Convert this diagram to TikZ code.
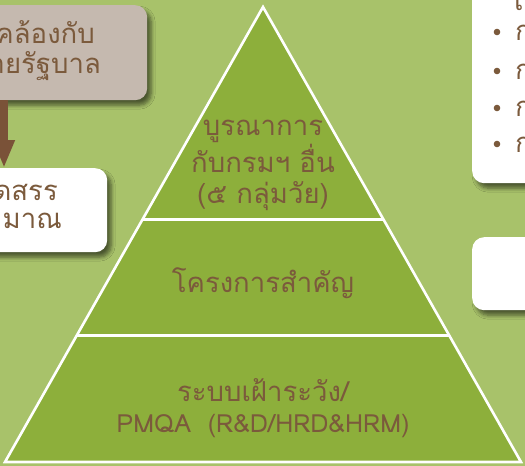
\documentclass[tikz,border=0pt]{standalone}
\usepackage{fontspec}
\newfontfamily\thaifont[Script=Thai]{Loma}
\usetikzlibrary{shadows.blur,arrows.meta,calc}
\definecolor{bgc}{HTML}{A8C26A}
\definecolor{pyrc}{HTML}{8DAF3B}
\definecolor{tanc}{HTML}{C5B9AF}
\definecolor{txtc}{HTML}{7B5A3C}
\definecolor{arrc}{HTML}{7A5238}
\newcommand{\latsize}{\fontsize{25}{31}\selectfont}
\begin{document}
\begin{tikzpicture}[x=1pt,y=-1pt,
  box/.style={draw=none, rounded corners=12pt, anchor=north west, inner sep=0pt,
    blur shadow={shadow xshift=4pt,shadow yshift=-5pt,shadow blur steps=6,shadow opacity=55,shadow blur radius=4pt}},
  txt/.style={text=txtc, inner sep=0pt, font=\thaifont\fontsize{27.5}{31}\selectfont}]
\useasboundingbox (0,0) rectangle (525,466);
\clip (0,0) rectangle (525,466);
\fill[bgc] (0,0) rectangle (525,466);
% left boxes
\node[box, fill=tanc, minimum width=207pt, minimum height=95pt] (polbox) at (-60,5) {};
\node[box, fill=white, minimum width=167pt, minimum height=84pt] (budbox) at (-60,168) {};
\node[txt, anchor=base east] (pol1) at (95,43) {สอดคล้องกับ};
\node[txt, anchor=base east] (pol2) at (101,73) {นโยบายรัฐบาล};
\node[txt, anchor=base east] (bud1) at (58,200) {จัดสรร};
\node[txt, anchor=base east] (bud2) at (62,228) {งบประมาณ};
\coordinate (a1) at (4,100);
\coordinate (a2) at (4,168);
\draw[arrc, line width=7pt, -{Triangle[width=20pt,length=28pt]}] (a1) -- (a2);
% right boxes
\node[box, fill=white, minimum width=140pt, minimum height=210pt] (rbox1) at (472,-27) {};
\node[box, fill=white, minimum width=140pt, minimum height=73pt] (rbox2) at (472,237) {};
\node[txt, anchor=base west] (r0) at (514,10) {เ};
\foreach \yy [count=\i] in {32,71,108,144}{
  \fill[txtc] (497,\yy) circle (3.3pt);
  \node[txt, anchor=base west] (rb\i) at (515,\yy+8) {ก};
}
% pyramid
\coordinate (apex) at (263,7);
\coordinate (bl) at (5,462);
\coordinate (br) at (521,462);
\fill[pyrc] (apex) -- (bl) -- (br) -- cycle;
\draw[white, line width=2.6pt, line join=miter] (apex) -- (bl) -- (br) -- cycle;
\draw[white, line width=3pt] ($(apex)!0.468!(bl)$) -- ($(apex)!0.468!(br)$);
\draw[white, line width=3pt] ($(apex)!0.721!(bl)$) -- ($(apex)!0.721!(br)$);
\node[txt, align=center, anchor=base] (tier1) at (263,203) {บูรณาการ\\กับกรมฯ อื่น\\(๕ กลุ่มวัย)};
\node[txt, anchor=base] (tier2) at (263,292) {โครงการสำคัญ};
\node[txt, align=center, anchor=base] (tier3) at (263,432) {ระบบเฝ้าระวัง/\\{\latsize PMQA\ \ (R\&D/HRD\&HRM)}};
\end{tikzpicture}
\end{document}
